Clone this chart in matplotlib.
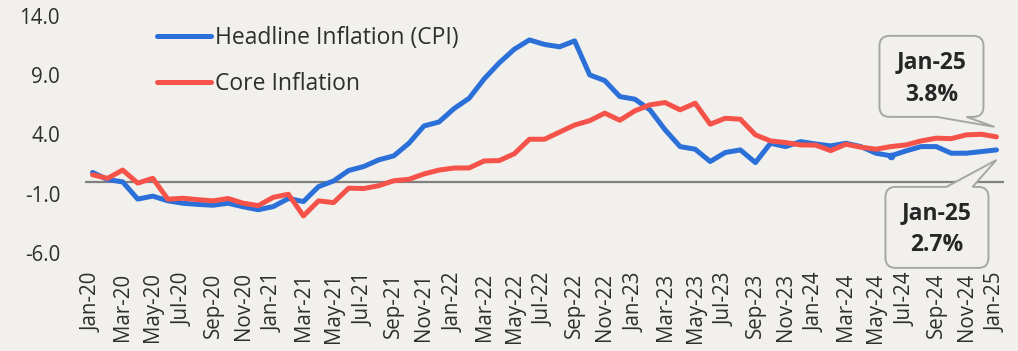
import matplotlib
matplotlib.use("Agg")
import matplotlib.pyplot as plt
from matplotlib.path import Path
from matplotlib.patches import PathPatch
from matplotlib.transforms import Affine2D, ScaledTranslation

plt.rcParams['font.family'] = ['Open Sans', 'Noto Sans', 'DejaVu Sans']

months = [f"{m}-{y:02d}" for y in range(20, 26)
          for m in ["Jan", "Feb", "Mar", "Apr", "May", "Jun",
                    "Jul", "Aug", "Sep", "Oct", "Nov", "Dec"]][:61]

headline = [0.8, 0.2, 0.0, -1.45, -1.2, -1.6, -1.8, -1.9, -1.97, -1.8,
            -2.1, -2.35, -2.08, -1.4, -1.66, -0.4, 0.08, 0.96, 1.3, 1.86,
            2.2, 3.26, 4.72, 5.06, 6.19, 7.06, 8.7, 10.05, 11.2, 11.98,
            11.6, 11.4, 11.9, 9.03, 8.55, 7.2, 6.98, 6.08, 4.4, 2.98,
            2.76, 1.72, 2.48, 2.7, 1.63, 3.26, 2.98, 3.4, 3.2, 3.04,
            3.26, 2.98, 2.42, 2.2, 2.62, 2.98, 2.98, 2.42, 2.42, 2.56,
            2.7]
core = [0.6, 0.3, 1.0, -0.1, 0.3, -1.46, -1.38, -1.5, -1.6, -1.4,
        -1.8, -2.0, -1.3, -1.04, -2.87, -1.6, -1.75, -0.53, -0.56, -0.32,
        0.1, 0.22, 0.67, 1.0, 1.17, 1.18, 1.77, 1.8, 2.38, 3.6,
        3.6, 4.2, 4.8, 5.17, 5.8, 5.2, 6.0, 6.5, 6.7, 6.08,
        6.64, 4.87, 5.37, 5.29, 3.97, 3.46, 3.32, 3.12, 3.1, 2.64,
        3.18, 2.93, 2.76, 2.98, 3.12, 3.46, 3.69, 3.65, 3.97, 4.02,
        3.8]

series_names = ["Headline Inflation (CPI)", "Core Inflation"]
y_ticks = [-6.0, -1.0, 4.0, 9.0, 14.0]

BG = "#F1F0EC"
BLUE = "#2B6FD8"
RED = "#F5534A"
TEXT = "#2E2E2E"
GRID = "#808080"
BOX = "#A6A6A6"

fig = plt.figure(figsize=(10.18, 3.51), dpi=100, facecolor=BG)
ax = fig.add_axes([85 / 1018, (351 - 253) / 351, 919 / 1018, 237 / 351])
ax.set_facecolor(BG)

x = list(range(len(months)))
ax.axhline(0, color=GRID, lw=1.6, zorder=1)
ax.plot(x, headline, color=BLUE, lw=3.6, solid_capstyle='round',
        solid_joinstyle='round', label=series_names[0], zorder=3,
        marker='o', markevery=[53], markersize=4.5)
ax.plot(x, core, color=RED, lw=3.6, solid_capstyle='round',
        solid_joinstyle='round', label=series_names[1], zorder=4)

ax.set_xlim(-0.5, len(months) - 0.5)
ax.set_ylim(-6, 14)
ax.set_yticks(y_ticks)
ax.set_yticklabels([f"{v:.1f}" for v in y_ticks])
ax.set_xticks(x[::2])
ax.set_xticklabels(months[::2], rotation=90)
ax.tick_params(axis='y', length=0, pad=18, labelsize=14.8, labelcolor=TEXT)
ax.tick_params(axis='x', length=0, pad=14, labelsize=14.8, labelcolor=TEXT)
for s in ax.spines.values():
    s.set_visible(False)

leg = ax.legend(loc='upper left', bbox_to_anchor=(0.068, 0.995), frameon=False,
                fontsize=16.5, handlelength=2.35, handletextpad=0.18,
                labelspacing=0.95, borderaxespad=0)
for t in leg.get_texts():
    t.set_color(TEXT)
for h in leg.legend_handles:
    h.set_marker('')


def callout(xi, yv, box, base, tip, lines, r=10):
    """Speech-bubble callout; geometry given in pixels relative to point."""
    x0, x1, y0, y1 = box
    tx, ty = tip
    verts, codes = [], []

    def move(p):
        verts.append(p); codes.append(Path.MOVETO)

    def line(p):
        verts.append(p); codes.append(Path.LINETO)

    def curve(c, p):
        verts.extend([c, p]); codes.extend([Path.CURVE3, Path.CURVE3])

    pointer_bottom = ty < y0
    move((x0 + r, y0))
    if pointer_bottom:
        line((base[0], y0)); line((tx, ty)); line((base[1], y0))
    line((x1 - r, y0)); curve((x1, y0), (x1, y0 + r))
    line((x1, y1 - r)); curve((x1, y1), (x1 - r, y1))
    if not pointer_bottom:
        line((base[1], y1)); line((tx, ty)); line((base[0], y1))
    line((x0 + r, y1)); curve((x0, y1), (x0, y1 - r))
    line((x0, y0 + r)); curve((x0, y0), (x0 + r, y0))
    codes.append(Path.CLOSEPOLY); verts.append((x0 + r, y0))

    trans = Affine2D().scale(fig.dpi / 100) + ScaledTranslation(xi, yv, ax.transData)
    patch = PathPatch(Path(verts, codes), facecolor=BG, edgecolor=BOX,
                      lw=1.4, transform=trans, clip_on=False, zorder=6)
    ax.add_patch(patch)
    cx = (x0 + x1) / 2
    for (ly, txt) in lines:
        ax.text(cx, ly, txt, transform=trans, ha='center', va='center',
                fontsize=16.5, fontweight='bold', color='#262626', zorder=7)


last = len(months) - 1
callout(last, core[-1], box=(-117, -13, 20, 101), base=(-60, -30), tip=(-2, 10),
        lines=[(75, months[-1]), (42, f"{core[-1]:.1f}%")])
callout(last, headline[-1], box=(-111, -8, -118, -37), base=(-50, -24), tip=(0, -10),
        lines=[(-63, months[-1]), (-95, f"{headline[-1]:.1f}%")])

fig.savefig("out.png", dpi=100, facecolor=BG)
